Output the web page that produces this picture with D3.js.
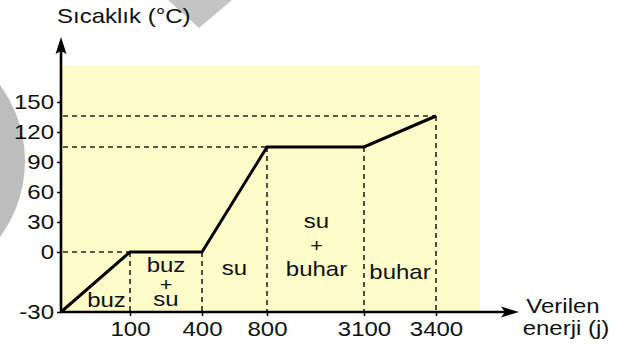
<!DOCTYPE html>
<html lang="tr">
<head>
<meta charset="utf-8">
<script src="https://d3js.org/d3.v7.min.js"></script>
<style>
  body { margin: 0; background: #fff; }
  svg text { font-family: "Liberation Sans", Arial, sans-serif; fill: #111; }
</style>
</head>
<body>
<div id="chart"></div>
<script>
// isıtma eğrisi verileri
const energy = [0, 100, 400, 800, 3100, 3400];
const temp = [-30, 0, 0, 105, 105, 136];
const yTicks = [-30, 0, 30, 60, 90, 120, 150];
const xTicks = [100, 400, 800, 3100, 3400];
const phases = [["buz"], ["buz", "+", "su"], ["su"], ["su", "+", "buhar"], ["buhar"]];

const width = 628, height = 346;
const fs = 20, stretch = 1.2;

const svg = d3.select("#chart").append("svg")
    .attr("width", width)
    .attr("height", height);

// eksenler orantılı değil, parça parça doğrusal ölçek
const x = d3.scaleLinear()
    .domain(energy)
    .range([61, 130, 202, 267, 364, 436]);
const y = d3.scaleLinear()
    .domain([-30, 0, 150])
    .range([312, 252, 102]);

// filigran parçaları
svg.append("circle")
    .attr("cx", -103).attr("cy", 161).attr("r", 128)
    .attr("fill", "#bdbdbd");
svg.append("polygon")
    .attr("points", "168,0 232,0 199,28")
    .attr("fill", "#c4c4c4");

// sarı arka plan
svg.append("rect")
    .attr("x", 61).attr("y", 66)
    .attr("width", 480 - 61).attr("height", 312 - 66)
    .attr("fill", "#fefcc9");

function label(g, txt, px, py, anchor, size) {
    return g.append("text")
        .attr("transform", "translate(" + px + "," + py + ") scale(" + stretch + ",1)")
        .attr("text-anchor", anchor || "middle")
        .style("font-size", (size || fs) + "px")
        .text(txt);
}

// kesikli yardımcı çizgiler
const dash = svg.append("g")
    .attr("stroke", "#222")
    .attr("stroke-width", 1.6)
    .attr("stroke-dasharray", "5,4")
    .attr("fill", "none");

[[0, 100], [105, 800], [136, 3400]].forEach(function (d) {
    dash.append("line")
        .attr("x1", x(0) + 2).attr("x2", x(d[1]))
        .attr("y1", y(d[0])).attr("y2", y(d[0]));
});
energy.slice(1).forEach(function (e, i) {
    dash.append("line")
        .attr("x1", x(e)).attr("x2", x(e))
        .attr("y1", y(temp[i + 1])).attr("y2", y(-30));
});

// eğri
const line = d3.line()
    .x(function (d, i) { return x(energy[i]); })
    .y(function (d) { return y(d); });
svg.append("path")
    .datum(temp)
    .attr("d", line)
    .attr("fill", "none")
    .attr("stroke", "#000")
    .attr("stroke-width", 3)
    .attr("stroke-linejoin", "miter");

// eksen işaretleri
const plain = function (d) { return String(d); };
const yAxis = d3.axisLeft(y).tickValues(yTicks).tickFormat(plain).tickSize(4).tickPadding(2);
const xAxis = d3.axisBottom(x).tickValues(xTicks).tickFormat(plain).tickSize(4).tickPadding(6);

const gy = svg.append("g").attr("transform", "translate(61,0)").call(yAxis);
const gx = svg.append("g").attr("transform", "translate(0,312)").call(xAxis);
[gy, gx].forEach(function (g) {
    g.select(".domain").remove();
    g.selectAll("line").attr("stroke", "#000").attr("stroke-width", 1.5);
    g.selectAll("text")
        .style("font-size", fs + "px")
        .style("font-family", "Liberation Sans, Arial, sans-serif")
        .attr("fill", "#111")
        .attr("transform", "scale(" + stretch + ",1)");
});
gy.selectAll("text").attr("x", -5.8);
gx.selectAll("text").attr("x", 0);

// eksen çizgileri ve oklar
svg.append("line")
    .attr("x1", 61).attr("x2", 61).attr("y1", 313).attr("y2", 50)
    .attr("stroke", "#000").attr("stroke-width", 2.6);
svg.append("polygon")
    .attr("points", "61,37 55.5,54 61,51 66.5,54")
    .attr("fill", "#000");
svg.append("line")
    .attr("x1", 60).attr("x2", 506).attr("y1", 312).attr("y2", 312)
    .attr("stroke", "#000").attr("stroke-width", 2.6);
svg.append("polygon")
    .attr("points", "519,312 501,306.5 505,312 501,317.5")
    .attr("fill", "#000");

// faz etiketleri
const lg = svg.append("g");
const layout = [
    { dx: 11, ys: [307] },
    { dx: 0, ys: [272, 291, 306] },
    { dx: 0, ys: [275] },
    { dx: 1, ys: [228, 252, 276] },
    { dx: 0, ys: [279] }
];
phases.forEach(function (p, i) {
    const cx = (x(energy[i]) + x(energy[i + 1])) / 2 + layout[i].dx;
    p.forEach(function (t, j) {
        label(lg, t, cx, layout[i].ys[j], "middle", t === "+" ? 18 : fs)
            .style("font-weight", t === "+" ? 300 : null);
    });
});

// eksen başlıkları
label(svg, "Sıcaklık (°C)", 57, 23, "start");
label(svg, "Verilen", 563, 313);
label(svg, "enerji (j)", 566, 335);
</script>
</body>
</html>
